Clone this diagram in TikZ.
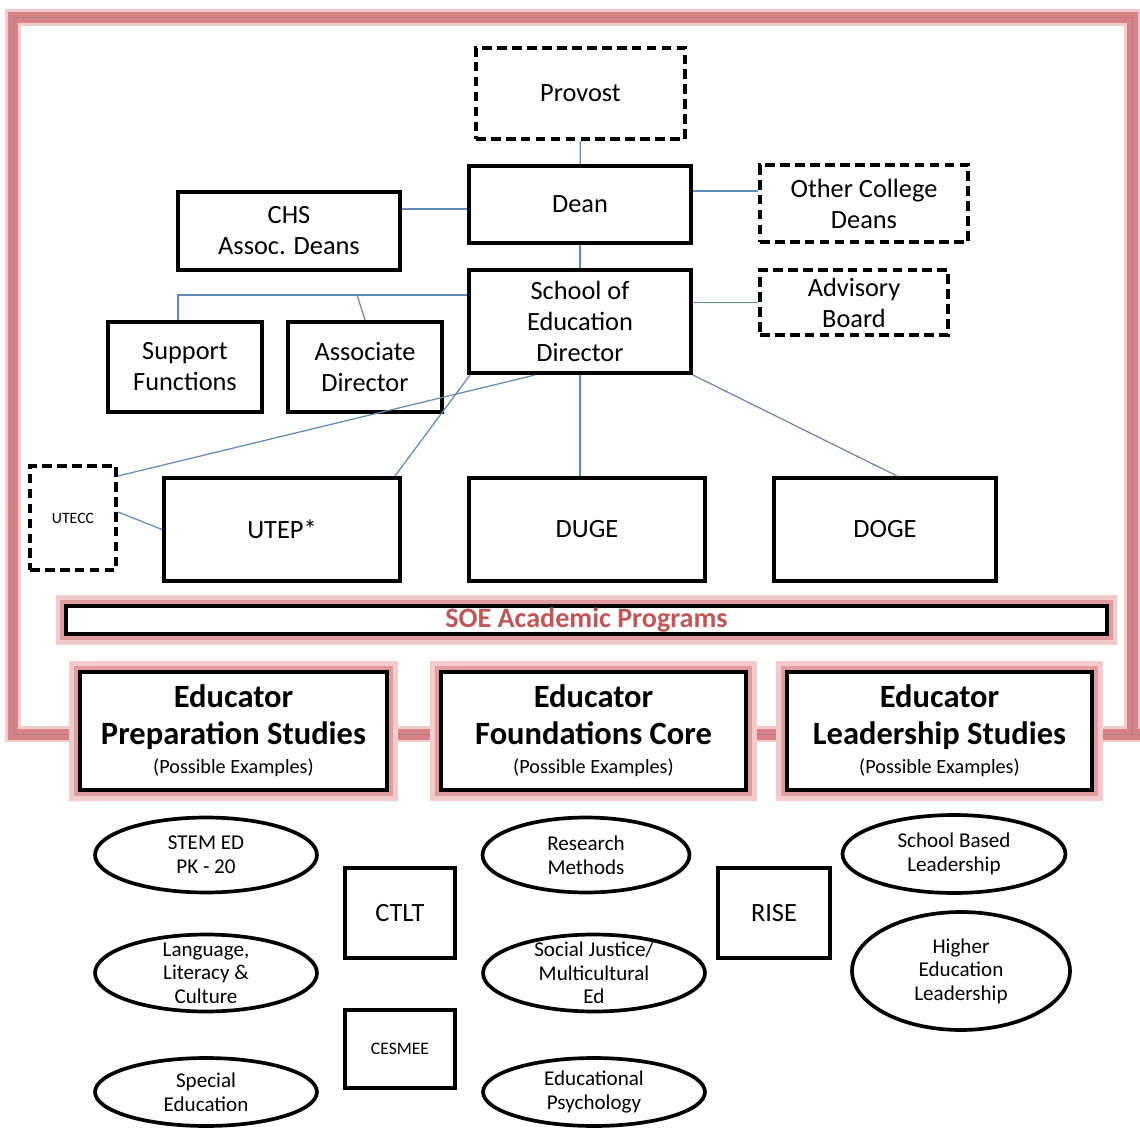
\documentclass[tikz,border=0pt]{standalone}
\usepackage{fontspec}
\setmainfont{Carlito}
\usetikzlibrary{shapes.geometric}
\definecolor{linkblue}{RGB}{95,140,180}
\definecolor{framered}{RGB}{214,130,136}
\definecolor{glowred}{RGB}{242,204,204}
\definecolor{glowmid}{RGB}{224,156,158}
\definecolor{soered}{RGB}{190,88,88}
\tikzset{
  box/.style={draw, line width=2.3pt, fill=white, align=center, inner sep=1pt,
    font=\fontsize{15}{17.6}\selectfont},
  dashbox/.style={box, dash pattern=on 5.5pt off 3pt},
  glowing/.style={preaction={draw=glowred, line width=12pt}, preaction={draw=glowmid, line width=7pt}},
  progbox/.style={box, glowing, line width=2.5pt, font=\fontsize{18.5}{21}\selectfont\bfseries},
  oval/.style={ellipse, draw, line width=2.1pt, fill=white, inner sep=0pt},
  ovaltext/.style={align=center, inner sep=0pt, font=\fontsize{12}{13.4}\selectfont},
  link/.style={draw=linkblue, line width=0.7pt},
}
\begin{document}
\begin{tikzpicture}[x=0.02cm, y=-0.02cm]
  \fill[white] (0,0) rectangle (1140,1128);
  \useasboundingbox (0,0) rectangle (1140,1128);
  % frame round the school
  \draw[glowred, line width=0.34cm] (1140,734) -| (13,18) -| (1132,734);
  \draw[framered, line width=0.22cm] (1140,734) -| (13,18) -| (1132,734);
  \draw[glowmid!80!black, line width=0.02cm] (1140,734) -| (13,18) -| (1132,734);

  % administration
  \node[dashbox, minimum width=4.18cm, minimum height=1.82cm] (provost) at (580.5,93.5) {Provost};
  \node[box, minimum width=4.44cm, minimum height=1.54cm] (dean) at (580,204.5) {Dean};
  \node[dashbox, minimum width=4.16cm, minimum height=1.54cm] (other) at (864,203.5) {Other College\\Deans};
  \node[box, minimum width=4.44cm, minimum height=1.56cm] (chs) at (289,231) {CHS\\Assoc. Deans};
  \node[box, minimum width=4.44cm, minimum height=2.06cm] (dir) at (580,321.5) {School of\\Education\\Director};
  \node[dashbox, minimum width=3.76cm, minimum height=1.3cm] (adv) at (854,302.5) {Advisory\\Board};
  \node[box, minimum width=3.08cm, minimum height=1.8cm] (supp) at (185,367) {Support\\Functions};
  \node[box, minimum width=3.08cm, minimum height=1.8cm] (assoc) at (365,367) {Associate\\Director};

  % departments
  \node[dashbox, minimum width=1.72cm, minimum height=2.08cm, font=\fontsize{9}{10}\selectfont] (utecc) at (73,518) {UTECC};
  \node[box, minimum width=4.72cm, minimum height=2.06cm] (utep) at (282,529.5) {UTEP*};
  \node[box, minimum width=4.72cm, minimum height=2.06cm] (duge) at (587,529.5) {DUGE};
  \node[box, minimum width=4.44cm, minimum height=2.06cm] (doge) at (885,529.5) {DOGE};

  % programs
  \node[box, glowing, inner sep=0pt, minimum width=20.82cm, minimum height=0.56cm,
    font=\fontsize{16}{18}\selectfont\bfseries, text=soered] (soe) at (586.5,620) {SOE Academic Programs};
  \node[progbox, minimum width=6.14cm, minimum height=2.36cm] (prep) at (233.5,731)
    {Educator\\Preparation Studies\\[-4.6pt]{\fontsize{11.5}{13}\selectfont\mdseries (Possible Examples)}};
  \node[progbox, minimum width=6.1cm, minimum height=2.36cm] (found) at (593.5,731)
    {Educator\\Foundations Core\\[-4.6pt]{\fontsize{11.5}{13}\selectfont\mdseries (Possible Examples)}};
  \node[progbox, minimum width=6.1cm, minimum height=2.36cm] (lead) at (939.5,731)
    {Educator\\Leadership Studies\\[-4.6pt]{\fontsize{11.5}{13}\selectfont\mdseries (Possible Examples)}};

  % centres
  \node[box, minimum width=2.2cm, minimum height=1.8cm] (ctlt) at (400,913) {CTLT};
  \node[box, minimum width=2.2cm, minimum height=1.56cm, font=\fontsize{10}{12}\selectfont] (cesmee) at (400,1049) {CESMEE};
  \node[box, minimum width=2.24cm, minimum height=1.8cm] (rise) at (774,913) {RISE};

  % examples
  \foreach \name/\pos/\w/\h/\txt in {
      stem/{206,855}/4.44/1.5/{STEM ED\\PK - 20},
      lang/{206,973}/4.44/1.54/{Language,\\Literacy \&\\Culture},
      spec/{206,1092}/4.44/1.36/{Special\\Education},
      research/{586,855}/4.14/1.5/{Research\\Methods},
      social/{594,973}/4.44/1.54/{Social Justice/\\Multicultural\\Ed},
      psych/{594,1092}/4.44/1.36/{Educational\\Psychology},
      school/{954,854}/4.46/1.56/{School Based\\Leadership},
      higher/{961,971}/4.36/2.36/{Higher\\Education\\Leadership}}{
    \node[oval, minimum width=\w cm, minimum height=\h cm] (\name) at (\pos) {};
    \node[ovaltext] (\name-text) at (\name) {\txt};
  }

  % links
  \draw[link] (provost) -- (dean);
  \draw[link] (dean) -- (dir);
  \coordinate (dl) at ([yshift=-0.09cm]dean.west);
  \draw[link] (dl) -- (dl -| chs.east);
  \coordinate (dr) at ([yshift=0.27cm]dean.east);
  \draw[link] (dr) -- (dr -| other.west);
  \draw[link] (dir.east |- adv.west) -- (adv.west);
  \coordinate (br) at ([yshift=0.53cm]dir.west);
  \draw[link] (br) -| ([xshift=-0.14cm]supp.north);
  \path (assoc.north |- br) ++(-8,0) coordinate (ab);
  \draw[link] (ab) -- (assoc.north);
  \draw[link] ([xshift=-0.9cm]dir.south) -- ([yshift=-0.24cm]utecc.north east);
  \draw[link] ([xshift=0.06cm]dir.south west) -- ([xshift=-0.14cm]utep.north east);
  \draw[link] (dir.south) -- (dir.south |- duge.north);
  \draw[link] (dir.south east) -- ([xshift=0.24cm]doge.north);
  \draw[link] ([yshift=0.12cm]utecc.east) -- (utep.west);
\end{tikzpicture}
\end{document}
